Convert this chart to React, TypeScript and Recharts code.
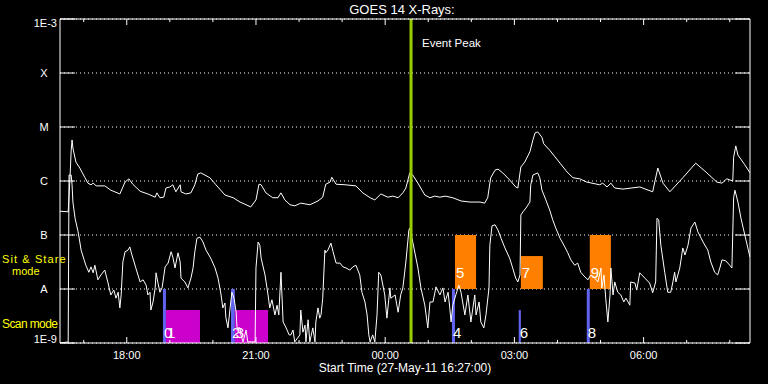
import React from "react";
import {
  ComposedChart,
  Line,
  XAxis,
  YAxis,
  CartesianGrid,
  ReferenceArea,
  ReferenceLine,
} from "recharts";

const FONT = "'Liberation Sans', Arial, sans-serif";

// time axis in clock hours (past midnight continues as 24, 25, ...), start 16:27
const START_HOUR = 16.45;
const END_HOUR = 32.47;
const HOUR_TICKS = [17, 18, 19, 20, 21, 22, 23, 24, 25, 26, 27, 28, 29, 30, 31, 32];
const EVENT_PEAK_HOUR = 24.6;

// flux levels as log10(W/m^2)
const LEVEL_TICKS = [-9, -8, -7, -6, -5, -4, -3];
const LEVEL_NAMES = ["1E-9", "A", "B", "C", "M", "X", "1E-3"];

// GOES 14 long channel (1-8 A): [hour, log10 flux]
const LONG_CHANNEL: [number, number][] = [
  [16.45, -6.56], [16.64, -6.57], [16.68, -5.98], [16.71, -5.43], [16.73, -5.24], [16.75, -5.39],
  [16.82, -5.65], [16.91, -5.76], [17.03, -5.94], [17.1, -6.04], [17.17, -6.07], [17.22, -6.04],
  [17.29, -6.09], [17.49, -6.09], [17.63, -6.17], [17.84, -6.24], [17.96, -6.02], [18.05, -5.96],
  [18.14, -6.06], [18.31, -6.19], [18.49, -6.24], [18.66, -6.3], [18.7, -6.22], [18.77, -6.31],
  [18.86, -6.3], [18.91, -6.13], [19.0, -6.11], [19.07, -6.07], [19.14, -6.2], [19.24, -6.07],
  [19.26, -6.2], [19.37, -6.24], [19.49, -6.22], [19.58, -6.07], [19.65, -5.87], [19.72, -5.85],
  [19.93, -5.94], [20.07, -6.07], [20.28, -6.26], [20.47, -6.31], [20.63, -6.39], [20.77, -6.44],
  [20.88, -6.48], [21.0, -6.35], [21.07, -6.06], [21.12, -6.07], [21.23, -6.22], [21.39, -6.31],
  [21.51, -6.31], [21.58, -6.22], [21.67, -6.35], [21.79, -6.44], [21.9, -6.46], [22.04, -6.41],
  [22.25, -6.44], [22.44, -6.37], [22.55, -6.3], [22.62, -6.06], [22.72, -6.02], [22.76, -5.93],
  [22.86, -6.06], [23.07, -6.07], [23.32, -6.09], [23.48, -6.22], [23.65, -6.31], [23.76, -6.35],
  [23.9, -6.24], [24.06, -6.3], [24.18, -6.28], [24.3, -6.31], [24.41, -6.22], [24.48, -6.13],
  [24.57, -5.85], [24.64, -5.89], [24.76, -6.04], [24.92, -6.26], [25.04, -6.31], [25.15, -6.28],
  [25.27, -6.3], [25.39, -6.28], [25.57, -6.31], [25.76, -6.37], [25.97, -6.39], [26.2, -6.39],
  [26.31, -6.41], [26.38, -6.31], [26.45, -5.94], [26.55, -5.8], [26.62, -5.78], [26.73, -5.85],
  [26.89, -5.98], [27.03, -6.11], [27.08, -6.13], [27.15, -5.74], [27.24, -5.65], [27.36, -5.46],
  [27.43, -5.24], [27.48, -5.11], [27.54, -5.09], [27.64, -5.19], [27.68, -5.31], [27.82, -5.43],
  [28.06, -5.67], [28.22, -5.83], [28.36, -5.94], [28.52, -5.96], [28.68, -6.02], [28.98, -6.07],
  [29.05, -6.04], [29.15, -6.11], [29.24, -6.04], [29.33, -6.13], [29.52, -6.15], [29.91, -6.11],
  [30.21, -6.2], [30.33, -5.76], [30.45, -6.04], [30.61, -6.2], [30.91, -5.94], [31.21, -5.67],
  [31.47, -5.85], [31.7, -6.02], [31.82, -6.04], [31.93, -5.96], [32.07, -6.0], [32.09, -5.56],
  [32.14, -5.35], [32.19, -5.52], [32.35, -5.7], [32.47, -5.85],
];

// GOES 14 short channel (0.5-4 A): [hour, log10 flux]
const SHORT_CHANNEL: [number, number][] = [
  [16.45, -9.0], [16.64, -8.98], [16.66, -5.89], [16.71, -5.89], [16.73, -6.07], [16.75, -6.39],
  [16.8, -6.69], [16.82, -6.76], [16.87, -6.94], [16.91, -7.13], [16.94, -7.28], [17.01, -7.46],
  [17.05, -7.56], [17.12, -7.69], [17.17, -7.59], [17.22, -7.7], [17.26, -7.56], [17.33, -7.83],
  [17.4, -7.74], [17.49, -7.65], [17.56, -7.87], [17.63, -8.11], [17.7, -8.02], [17.75, -8.17],
  [17.8, -8.06], [17.84, -8.35], [17.87, -8.11], [17.91, -7.5], [17.96, -7.31], [18.03, -7.28],
  [18.07, -7.22], [18.12, -7.37], [18.17, -7.5], [18.21, -7.61], [18.31, -7.87], [18.38, -7.83],
  [18.45, -7.93], [18.49, -8.11], [18.54, -8.06], [18.56, -8.39], [18.61, -8.24], [18.66, -7.98],
  [18.68, -7.7], [18.72, -7.87], [18.77, -8.06], [18.82, -7.98], [18.89, -7.59], [18.96, -7.52],
  [19.03, -7.31], [19.07, -7.41], [19.12, -7.61], [19.19, -7.33], [19.24, -7.5], [19.26, -7.8],
  [19.35, -7.87], [19.42, -7.98], [19.49, -7.8], [19.54, -7.61], [19.58, -7.31], [19.63, -7.06],
  [19.7, -7.04], [19.77, -7.13], [19.84, -7.28], [19.95, -7.43], [20.05, -7.61], [20.12, -7.8],
  [20.19, -8.11], [20.23, -8.35], [20.28, -8.26], [20.3, -8.52], [20.35, -8.72], [20.4, -8.35],
  [20.44, -8.06], [20.49, -8.17], [20.54, -8.43], [20.56, -8.72], [20.63, -8.72], [20.65, -8.85],
  [20.7, -8.98], [20.77, -8.76], [20.81, -8.98], [20.98, -8.98], [21.0, -7.61], [21.05, -7.13],
  [21.09, -7.19], [21.12, -7.43], [21.21, -7.74], [21.28, -8.11], [21.32, -8.35], [21.37, -8.2],
  [21.44, -8.48], [21.49, -8.3], [21.53, -8.48], [21.58, -7.69], [21.63, -8.61], [21.7, -8.72],
  [21.77, -8.85], [21.81, -8.85], [21.86, -8.76], [21.9, -8.98], [22.02, -8.85], [22.04, -8.39],
  [22.09, -8.8], [22.14, -8.67], [22.16, -8.98], [22.21, -8.57], [22.25, -8.98], [22.32, -8.72],
  [22.37, -8.98], [22.39, -8.61], [22.44, -8.35], [22.48, -8.54], [22.51, -8.48], [22.55, -8.17],
  [22.6, -7.28], [22.62, -7.33], [22.67, -7.28], [22.74, -7.15], [22.79, -7.31], [22.86, -7.52],
  [22.95, -7.52], [23.02, -7.59], [23.09, -7.61], [23.18, -7.65], [23.25, -7.59], [23.32, -7.56],
  [23.41, -7.74], [23.46, -8.06], [23.53, -8.24], [23.58, -8.48], [23.62, -8.85], [23.65, -8.98],
  [23.71, -8.85], [23.76, -8.98], [23.81, -8.48], [23.85, -7.69], [23.9, -7.74], [23.99, -8.11],
  [24.04, -8.54], [24.11, -7.98], [24.13, -8.17], [24.23, -8.11], [24.3, -8.43], [24.36, -8.11],
  [24.41, -7.98], [24.48, -7.5], [24.55, -6.91], [24.57, -6.87], [24.64, -7.13], [24.76, -7.61],
  [24.83, -7.98], [24.92, -8.3], [24.99, -8.72], [25.04, -8.24], [25.11, -8.24], [25.18, -7.96],
  [25.27, -8.11], [25.34, -7.98], [25.39, -8.24], [25.46, -8.06], [25.5, -8.35], [25.53, -8.61],
  [25.57, -8.3], [25.64, -8.11], [25.71, -7.93], [25.76, -8.06], [25.85, -8.48], [25.92, -8.11],
  [25.99, -8.61], [26.08, -8.11], [26.11, -8.48], [26.18, -8.24], [26.22, -8.61], [26.29, -8.72],
  [26.34, -8.48], [26.41, -7.98], [26.43, -7.19], [26.48, -6.83], [26.55, -6.81], [26.62, -6.91],
  [26.69, -7.06], [26.78, -7.24], [26.89, -7.43], [26.96, -7.61], [27.03, -7.8], [27.08, -7.87],
  [27.13, -7.74], [27.15, -6.63], [27.2, -6.57], [27.27, -6.5], [27.36, -6.39], [27.38, -6.07],
  [27.43, -5.89], [27.54, -5.85], [27.59, -5.94], [27.64, -6.17], [27.73, -6.35], [27.82, -6.54],
  [27.89, -6.72], [27.96, -6.87], [28.06, -7.06], [28.17, -7.22], [28.24, -7.33], [28.31, -7.46],
  [28.4, -7.56], [28.47, -7.52], [28.54, -7.69], [28.64, -7.78], [28.71, -7.83], [28.77, -7.74],
  [28.87, -7.8], [28.94, -7.87], [29.01, -7.61], [29.03, -7.98], [29.08, -7.74], [29.12, -8.17],
  [29.17, -8.61], [29.22, -8.11], [29.24, -7.61], [29.29, -8.11], [29.33, -7.87], [29.4, -8.06],
  [29.47, -8.11], [29.54, -8.24], [29.59, -8.17], [29.68, -8.3], [29.7, -7.87], [29.8, -7.89],
  [29.84, -8.02], [29.91, -7.7], [30.03, -7.8], [30.14, -7.89], [30.21, -8.07], [30.28, -7.87],
  [30.31, -6.69], [30.35, -6.72], [30.4, -7.19], [30.49, -7.69], [30.56, -8.06], [30.63, -8.06],
  [30.68, -7.87], [30.72, -7.69], [30.75, -7.87], [30.84, -7.61], [30.91, -7.24], [30.96, -7.37],
  [31.03, -7.19], [31.1, -6.87], [31.19, -6.76], [31.26, -6.94], [31.38, -7.13], [31.49, -7.28],
  [31.56, -7.5], [31.65, -7.69], [31.72, -7.74], [31.77, -7.61], [31.82, -7.46], [31.91, -7.48],
  [32.0, -7.56], [32.05, -7.61], [32.09, -6.31], [32.12, -6.17], [32.19, -6.39], [32.26, -6.69],
  [32.35, -7.0], [32.42, -7.24], [32.47, -7.41],
];

// observing blocks: numbered 0..9
const BLOCK_NAMES = ["0", "1", "2", "3", "4", "5", "6", "7", "8", "9"];
const BLOCK_START = [18.84, 18.91, 20.42, 20.51, 25.55, 25.62, 27.1, 27.15, 28.68, 28.75];
const BLOCK_END = [18.91, 19.7, 20.51, 21.28, 25.62, 26.11, 27.15, 27.66, 28.75, 29.24];
const BLOCK_LOW = [-9, -9, -9, -9, -9, -8, -9, -8, -9, -8];
const BLOCK_HIGH = [-8, -8.39, -8, -8.39, -8, -7, -8.39, -7.39, -8, -7];
const BLOCK_KIND = ["point", "scan", "point", "scan", "point", "stare", "point", "stare", "point", "stare"];

const KIND_COLOR: Record<string, string> = {
  point: "#6262f0",
  scan: "#cc00cc",
  stare: "#ff8000",
};

const longData = LONG_CHANNEL.map(([h, v]) => ({ h, v }));
const shortData = SHORT_CHANNEL.map(([h, v]) => ({ h, v }));

const fmtHour = (h: number) => `${String(h % 24).padStart(2, "0")}:00`;

function BottomTick(props: any) {
  const { x, y, payload } = props;
  const major = payload.value % 3 === 0;
  return (
    <g>
      <line x1={x} y1={y} x2={x} y2={y - (major ? 6 : 3)} stroke="#fff" />
      {major && (
        <text x={x} y={y + 16} textAnchor="middle" fill="#fff" fontSize={11} fontFamily={FONT}>
          {fmtHour(payload.value)}
        </text>
      )}
    </g>
  );
}

function TopTick(props: any) {
  const { x, y, payload } = props;
  const major = payload.value % 3 === 0;
  return <line x1={x} y1={y} x2={x} y2={y + (major ? 6 : 3)} stroke="#fff" />;
}

function LeftTick(props: any) {
  const { x, y, payload } = props;
  const v = payload.value as number;
  const idx = LEVEL_TICKS.indexOf(v);
  const edge = v === -3 || v === -9;
  const dy = v === -3 ? 8 : v === -9 ? 0 : 4;
  return (
    <g>
      <line x1={x} y1={y} x2={x + 15} y2={y} stroke="#fff" />
      <text
        x={edge ? x - 3 : x - 16}
        y={y + dy}
        textAnchor={edge ? "end" : "middle"}
        fill="#fff"
        fontSize={11}
        fontFamily={FONT}
      >
        {LEVEL_NAMES[idx]}
      </text>
    </g>
  );
}

function RightTick(props: any) {
  const { x, y } = props;
  return <line x1={x} y1={y} x2={x - 15} y2={y} stroke="#fff" />;
}

function BlockLabel(props: any) {
  const { viewBox, text, lift } = props;
  if (!viewBox) return null;
  return (
    <text
      x={viewBox.x + 1}
      y={viewBox.y + viewBox.height - lift}
      fill="#fff"
      fontSize={15}
      fontFamily={FONT}
    >
      {text}
    </text>
  );
}

function PeakLabel(props: any) {
  const { viewBox } = props;
  if (!viewBox) return null;
  return (
    <text x={viewBox.x + 11} y={viewBox.y + 28} fill="#fff" fontSize={11.5} fontFamily={FONT}>
      Event Peak
    </text>
  );
}

export default function App() {
  return (
    <div
      style={{
        position: "absolute",
        left: 0,
        top: 0,
        width: 768,
        height: 384,
        background: "#000",
        overflow: "hidden",
      }}
    >
      <ComposedChart width={768} height={384} margin={{ top: 18, right: 17, bottom: 0, left: 0 }}>
        <CartesianGrid vertical={false} stroke="#fff" strokeDasharray="1 3" />
        <XAxis
          dataKey="h"
          type="number"
          domain={[START_HOUR, END_HOUR]}
          allowDataOverflow
          ticks={HOUR_TICKS}
          interval={0}
          height={41}
          tickSize={0}
          tickMargin={0}
          tickLine={false}
          axisLine={{ stroke: "#fff" }}
          tick={<BottomTick />}
        />
        <XAxis
          xAxisId="top"
          orientation="top"
          dataKey="h"
          type="number"
          domain={[START_HOUR, END_HOUR]}
          allowDataOverflow
          ticks={HOUR_TICKS}
          interval={0}
          height={1}
          tickSize={0}
          tickMargin={0}
          tickLine={false}
          axisLine={{ stroke: "#fff" }}
          tick={<TopTick />}
        />
        <YAxis
          type="number"
          domain={[-9, -3]}
          allowDataOverflow
          ticks={LEVEL_TICKS}
          interval={0}
          width={60}
          tickSize={0}
          tickMargin={0}
          tickLine={false}
          axisLine={{ stroke: "#fff" }}
          tick={<LeftTick />}
        />
        <YAxis
          yAxisId="right"
          orientation="right"
          type="number"
          domain={[-9, -3]}
          allowDataOverflow
          ticks={LEVEL_TICKS}
          interval={0}
          width={1}
          tickSize={0}
          tickMargin={0}
          tickLine={false}
          axisLine={{ stroke: "#fff" }}
          tick={<RightTick />}
        />
        {BLOCK_NAMES.map((name, i) => (
          <ReferenceArea
            key={`blk-${name}`}
            x1={BLOCK_START[i]}
            x2={BLOCK_END[i]}
            y1={BLOCK_LOW[i]}
            y2={BLOCK_HIGH[i]}
            fill={KIND_COLOR[BLOCK_KIND[i]]}
            fillOpacity={1}
            stroke="none"
            ifOverflow="hidden"
          />
        ))}
        <Line
          data={shortData}
          dataKey="v"
          type="linear"
          stroke="#fff"
          strokeWidth={1}
          dot={false}
          isAnimationActive={false}
        />
        <Line
          data={longData}
          dataKey="v"
          type="linear"
          stroke="#fff"
          strokeWidth={1}
          dot={false}
          isAnimationActive={false}
        />
        {BLOCK_NAMES.map((name, i) => (
          <ReferenceArea
            key={`lbl-${name}`}
            x1={BLOCK_START[i]}
            x2={BLOCK_END[i]}
            y1={BLOCK_LOW[i]}
            y2={BLOCK_HIGH[i]}
            fill="none"
            fillOpacity={0}
            stroke="none"
            label={<BlockLabel text={name} lift={BLOCK_LOW[i] === -9 ? 5 : 11} />}
          />
        ))}
        <ReferenceLine
          x={EVENT_PEAK_HOUR}
          stroke="#9acd00"
          strokeWidth={3}
          label={<PeakLabel />}
        />
      </ComposedChart>
      <svg
        width={768}
        height={384}
        style={{ position: "absolute", left: 0, top: 0, pointerEvents: "none" }}
      >
        <text x={402} y={14} textAnchor="middle" fill="#fff" fontSize={13} fontFamily={FONT}>
          GOES 14 X-Rays:
        </text>
        <text x={405} y={372} textAnchor="middle" fill="#fff" fontSize={12} fontFamily={FONT}>
          Start Time (27-May-11 16:27:00)
        </text>
        <text x={2} y={263} fill="#ffff00" fontSize={11} fontFamily={FONT} letterSpacing={1.1}>
          Sit &amp; Stare
        </text>
        <text x={12} y={275} fill="#ffff00" fontSize={11} fontFamily={FONT}>
          mode
        </text>
        <text x={2} y={328} fill="#ffff00" fontSize={12} fontFamily={FONT} letterSpacing={-0.6}>
          Scan mode
        </text>
      </svg>
    </div>
  );
}
